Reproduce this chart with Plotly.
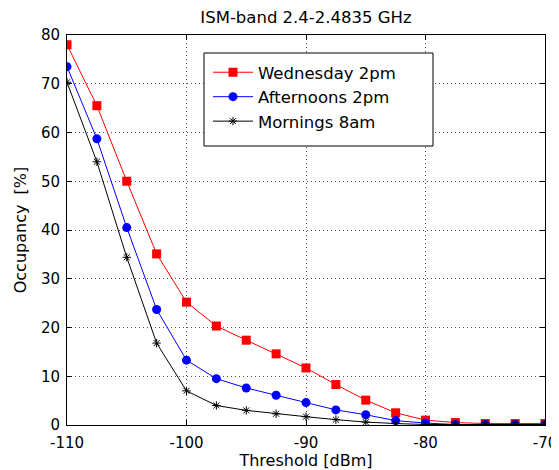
import plotly.graph_objects as go

threshold = [-110, -107.5, -105, -102.5, -100, -97.5, -95, -92.5, -90, -87.5, -85, -82.5, -80, -77.5, -75, -72.5, -70]
wednesday_2pm = [78.0, 65.5, 50.0, 35.1, 25.2, 20.3, 17.4, 14.6, 11.7, 8.3, 5.1, 2.5, 1.0, 0.5, 0.3, 0.3, 0.3]
afternoons_2pm = [73.5, 58.7, 40.5, 23.7, 13.3, 9.5, 7.6, 6.1, 4.6, 3.1, 2.1, 0.9, 0.4, 0.1, 0.1, 0.1, 0.1]
mornings_8am = [70.3, 54.0, 34.4, 16.8, 7.0, 4.0, 3.0, 2.3, 1.7, 1.1, 0.6, 0.3, 0.1, 0.1, 0.1, 0.1, 0.1]

x_tick_vals = [-110, -100, -90, -80, -70]
x_tick_text = ["-110", "-100", "-90", "-80", "-70"]
y_tick_vals = [0, 10, 20, 30, 40, 50, 60, 70, 80]
y_tick_text = ["0", "10", "20", "30", "40", "50", "60", "70", "80"]

FONT = "DejaVu Sans, Liberation Sans, Arial, sans-serif"

fig = go.Figure()
fig.add_trace(go.Scatter(x=threshold, y=wednesday_2pm, name="Wednesday 2pm", mode="lines+markers",
                         line=dict(color="#ff0000", width=1),
                         marker=dict(symbol="square", size=9, color="#ff0000")))
fig.add_trace(go.Scatter(x=threshold, y=afternoons_2pm, name="Afternoons 2pm", mode="lines+markers",
                         line=dict(color="#0000ff", width=1),
                         marker=dict(symbol="circle", size=9, color="#0000ff")))
fig.add_trace(go.Scatter(x=threshold, y=mornings_8am, name="Mornings 8am", mode="lines+markers",
                         line=dict(color="#000000", width=1),
                         marker=dict(symbol="asterisk-open", size=7, color="#000000",
                                     line=dict(color="#000000", width=1))))

# page body has an 8px default margin: work in window pixels, convert to figure
OFF = 8
W, H = 559 - OFF, 470 - OFF
L, R, T, B = 67 - OFF, 14, 35 - OFF, 45
pw, ph = W - L - R, H - T - B

def px(x):
    return (x - OFF - L) / pw

def py(y):
    return (H - B - (y - OFF)) / ph

fig.add_shape(type="rect", xref="paper", yref="paper",
              x0=px(204), x1=px(433), y0=py(146), y1=py(53),
              line=dict(color="black", width=1), fillcolor="white", layer="above")

axis_common = dict(showline=True, linecolor="black", linewidth=1, mirror="ticks",
                   ticks="inside", ticklen=5, tickcolor="black", automargin=False,
                   showgrid=True, gridcolor="#555555", griddash="1px,3px", gridwidth=1,
                   zeroline=False, tickfont=dict(family=FONT, size=15, color="black"))

fig.update_layout(
    width=W, height=H,
    margin=dict(l=L, r=R, t=T, b=B, autoexpand=False),
    paper_bgcolor="white", plot_bgcolor="white",
    title=dict(text="ISM-band 2.4-2.4835 GHz", x=(L + pw / 2) / W, xanchor="center",
               y=1 - (17 - OFF) / H, yanchor="middle", automargin=False,
               font=dict(family=FONT, size=16.5, color="black")),
    xaxis=dict(range=[-110, -70], tickmode="array", tickvals=x_tick_vals, ticktext=x_tick_text,
               ticklabelstandoff=4,
               title=dict(text="Threshold [dBm]", standoff=0, font=dict(family=FONT, size=16, color="black")),
               **axis_common),
    yaxis=dict(range=[0, 80], tickmode="array", tickvals=y_tick_vals, ticktext=y_tick_text,
               ticklabelstandoff=3,
               title=dict(text="Occupancy  [%]", standoff=10, font=dict(family=FONT, size=16, color="black")),
               **axis_common),
    showlegend=True,
    legend=dict(x=px(208), y=py(55), xanchor="left", yanchor="top",
                bgcolor="rgba(0,0,0,0)", borderwidth=0,
                font=dict(family=FONT, size=16.5, color="black"),
                itemwidth=40, tracegroupgap=0),
)

fig.write_html("out.html")
